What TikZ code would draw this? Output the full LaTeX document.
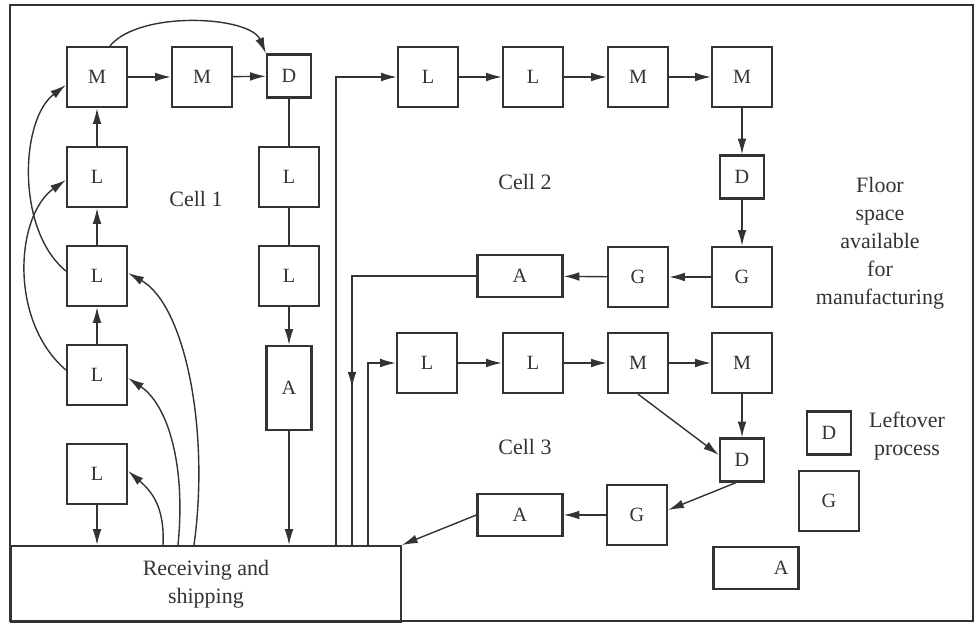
\documentclass[tikz,border=0pt]{standalone}
\usepackage{fontspec}
\setmainfont{Liberation Serif}
\usetikzlibrary{arrows.meta,decorations.markings}

\begin{document}
\begin{tikzpicture}[x=0.02cm, y=-0.02cm, line width=0.8pt, color=black!80,
    box/.style={draw, line width=1.3pt, minimum width=1.2cm, minimum height=1.2cm,
                inner sep=0pt, font=\fontsize{11.5}{13}\selectfont},
    dbox/.style={box, minimum width=0.88cm, minimum height=0.86cm},
    abox/.style={box, minimum width=1.7cm, minimum height=0.84cm},
    arr/.style={-{Latex[length=9pt,width=5pt]}},
    lbl/.style={font=\fontsize{12.5}{16}\selectfont, align=center},
    midarr/.style={postaction={decorate}, decoration={markings,
                   mark=at position #1 with {\arrow{Latex[length=9pt,width=5pt]}}}}]
    \useasboundingbox (0,0) rectangle (977,624);
    \draw[line width=1.1pt] (10,5) rectangle (973,621); % floor

    % Receiving and shipping
    \node[draw, line width=1.1pt, anchor=north west, minimum width=7.8cm, minimum height=1.52cm,
          inner sep=0pt, lbl] (recv) at (10,545) {Receiving and\\shipping};
    \coordinate (r1) at (163,545);
    \coordinate (r2) at (178,545);
    \coordinate (r3) at (194,545);
    \coordinate (v1) at (336,545);
    \coordinate (v2) at (352,545);
    \coordinate (v3) at (368,545);

    % Cell 1
    \node[box] (c1m1) at (97,77) {M};
    \node[box] (c1m2) at (202,77) {M};
    \node[dbox] (c1d) at (289,76) {D};
    \node[box] (c1l1) at (97,177) {L};
    \node[box] (c1l2) at (97,276) {L};
    \node[box] (c1l3) at (97,375) {L};
    \node[box] (c1l4) at (97,474) {L};
    \node[box] (c1l5) at (289,177) {L};
    \node[box] (c1l6) at (289,276) {L};
    \node[box, minimum width=0.9cm, minimum height=1.68cm] (c1a) at (289,388) {A};
    \node[lbl] (cell1) at (196,199) {Cell 1};

    \draw[arr] (c1m1) -- (c1m2);
    \draw[arr] (c1m2) -- (c1d);
    \draw[arr] (c1m1.north) ++(13,0) .. controls (140,10) and (250,16) .. (c1d.north west);
    \draw (c1d) -- (c1l5);
    \draw (c1l5) -- (c1l6);
    \draw[arr] (c1l6) -- (c1a);
    \draw[arr] (c1a) -- (c1a.south |- recv.north);
    \draw[arr] (c1l4) -- (c1l4.south |- recv.north);
    \draw[arr] (c1l3) -- (c1l2);
    \draw[arr] (c1l2) -- (c1l1);
    \draw[arr] (c1l1) -- (c1m1);
    \draw[arr] (c1l2.west) ++(0,-5) .. controls (16,230) and (20,120) .. ([yshift=-0.16cm]c1m1.west);
    \draw[arr] (c1l3.west) ++(0,-5) .. controls (8,320) and (16,215) .. ([yshift=-0.06cm]c1l1.west);
    \draw[arr] (r1) .. controls (165,505) and (150,490) .. ([yshift=0.06cm]c1l4.east);
    \draw[arr] (r2) .. controls (186,465) and (168,405) .. ([yshift=-0.06cm]c1l3.east);
    \draw[arr] (r3) .. controls (210,430) and (185,305) .. ([yshift=0.06cm]c1l2.east);

    % Cell 2
    \node[box] (c2l1) at (428,77) {L};
    \node[box] (c2l2) at (533,77) {L};
    \node[box] (c2m1) at (638,77) {M};
    \node[box] (c2m2) at (742,77) {M};
    \node[dbox] (c2d) at (742,177) {D};
    \node[box] (c2g2) at (742,277) {G};
    \node[box] (c2g1) at (638,277) {G};
    \node[abox] (c2a) at (520,276) {A};
    \node[lbl] (cell2) at (525,182) {Cell 2};

    \draw[arr] (v1) |- (c2l1);
    \draw[arr] (c2l1) -- (c2l2);
    \draw[arr] (c2l2) -- (c2m1);
    \draw[arr] (c2m1) -- (c2m2);
    \draw[arr] (c2m2) -- (c2d);
    \draw[arr] (c2d) -- (c2g2);
    \draw[arr] (c2g2) -- (c2g1);
    \draw[arr] (c2g1) -- (c2a);
    \draw[midarr=0.6] (c2a.west) -| (v2);

    % Cell 3
    \node[box] (c3l1) at (427,363) {L};
    \node[box] (c3l2) at (533,363) {L};
    \node[box] (c3m1) at (638,363) {M};
    \node[box] (c3m2) at (742,363) {M};
    \node[dbox] (c3d) at (742,460) {D};
    \node[box] (c3g) at (637,515) {G};
    \node[abox] (c3a) at (520,515) {A};
    \node[lbl] (cell3) at (525,447) {Cell 3};

    \draw[arr] (v3) |- (c3l1);
    \draw[arr] (c3l1) -- (c3l2);
    \draw[arr] (c3l2) -- (c3m1);
    \draw[arr] (c3m1) -- (c3m2);
    \draw[arr] (c3m2) -- (c3d);
    \draw[arr] (c3m1.south) -- ([yshift=0.1cm]c3d.west);
    \draw[arr] ([xshift=-0.12cm]c3d.south) -- ([yshift=0.1cm]c3g.east);
    \draw[arr] (c3g) -- (c3a);
    \draw[arr] (c3a.west) -- (recv.north east);

    % Free floor space and leftover process
    \node[lbl] (floor) at (880,243) {Floor\\space\\available\\for\\manufacturing};
    \node[dbox] (lod) at (829,433) {D};
    \node[lbl] (lotext) at (907,436) {Leftover\\process};
    \node[box] (log) at (829,501) {G};
    \node[abox, inner xsep=0.2cm, text width=1.3cm, align=right] (loa) at (756,568) {A};
\end{tikzpicture}
\end{document}
